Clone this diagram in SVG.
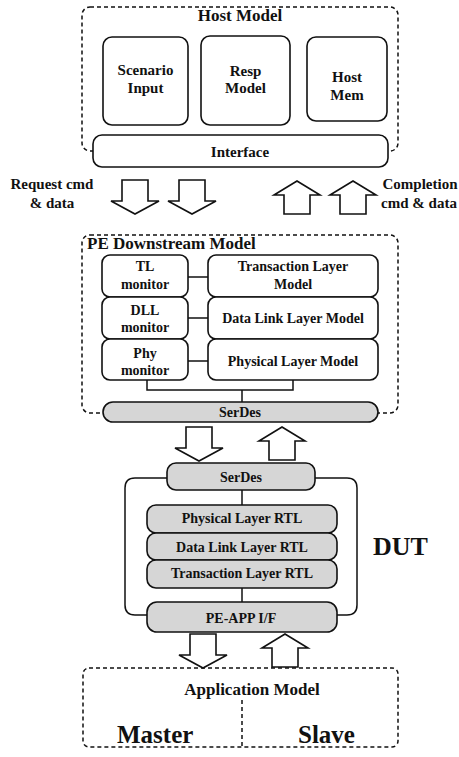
<svg xmlns="http://www.w3.org/2000/svg" width="459" height="757" viewBox="0 0 459 757">
  <style>
    text { font-family: "Liberation Serif", "Times New Roman", serif; font-weight: bold; fill: #111; }
    .c { text-anchor: middle; }
    .box { fill: #fff; stroke: #111; stroke-width: 1.6; }
    .grey { fill: #d6d6d6; stroke: #111; stroke-width: 1.6; }
    .dash { fill: none; stroke: #111; stroke-width: 1.5; stroke-dasharray: 4 3; }
    .line { fill: none; stroke: #111; stroke-width: 1.5; }
    .arrow { fill: #fff; stroke: #111; stroke-width: 1.6; stroke-linejoin: miter; }
    .t14 { font-size: 14px; }
    .t15 { font-size: 15px; }
    .t17 { font-size: 17px; }
  </style>
  <defs>
    <!-- block arrows, drawn around origin; tip at y=0 for up, tip at bottom for down -->
    <path id="down" d="M-13,0 H13 V21 H24 L0,34 L-24,21 H-13 Z"/>
    <path id="up" d="M-13,33 H13 V14 H23 L0,0 L-23,14 H-13 Z"/>
  </defs>
  <rect width="459" height="757" fill="#fff"/>

  <!-- Host Model -->
  <g id="host-model">
    <rect class="dash" x="82" y="7" width="316" height="144" rx="8"/>
    <text class="t17 c" x="240" y="21">Host Model</text>
  </g>
  <g id="scenario-input">
    <rect class="box" x="103" y="37" width="85" height="88" rx="9"/>
    <text class="t15 c" x="145.5" y="75">Scenario</text>
    <text class="t15 c" x="145.5" y="93">Input</text>
  </g>
  <g id="resp-model">
    <rect class="box" x="201" y="36" width="89" height="89" rx="9"/>
    <text class="t15 c" x="245.5" y="76">Resp</text>
    <text class="t15 c" x="245.5" y="93">Model</text>
  </g>
  <g id="host-mem">
    <rect class="box" x="307" y="37" width="80" height="84" rx="9"/>
    <text class="t15 c" x="347" y="82">Host</text>
    <text class="t15 c" x="347" y="100">Mem</text>
  </g>
  <g id="interface">
    <rect class="box" x="93" y="135" width="295" height="32" rx="9"/>
    <text class="t15 c" x="240" y="157">Interface</text>
  </g>

  <!-- host-side labels -->
  <g id="request-label">
    <text class="t15 c" x="52" y="189">Request cmd</text>
    <text class="t15 c" x="52" y="208">&amp; data</text>
  </g>
  <g id="completion-label">
    <text class="t15 c" x="420" y="189">Completion</text>
    <text class="t15 c" x="419" y="208">cmd &amp; data</text>
  </g>

  <!-- PE Downstream Model -->
  <g id="pe-downstream-model">
    <rect class="dash" x="82" y="235" width="316" height="178" rx="8"/>
    <text class="t17" x="87" y="249">PE Downstream Model</text>
  </g>
  <g id="tl-monitor">
    <rect class="box" x="102" y="255" width="86" height="42" rx="8"/>
    <text class="t14 c" x="145" y="271">TL</text>
    <text class="t14 c" x="145" y="289">monitor</text>
  </g>
  <g id="dll-monitor">
    <rect class="box" x="102" y="297" width="86" height="42" rx="8"/>
    <text class="t14 c" x="145" y="315">DLL</text>
    <text class="t14 c" x="145" y="332">monitor</text>
  </g>
  <g id="phy-monitor">
    <rect class="box" x="102" y="339" width="86" height="41" rx="8"/>
    <text class="t14 c" x="145" y="358">Phy</text>
    <text class="t14 c" x="145" y="375">monitor</text>
  </g>
  <g id="transaction-layer-model">
    <rect class="box" x="208" y="255" width="170" height="42" rx="8"/>
    <text class="t14 c" x="293" y="271">Transaction Layer</text>
    <text class="t14 c" x="293" y="289">Model</text>
  </g>
  <g id="data-link-layer-model">
    <rect class="box" x="208" y="297" width="170" height="42" rx="8"/>
    <text class="t14 c" x="293" y="323">Data Link Layer Model</text>
  </g>
  <g id="physical-layer-model">
    <rect class="box" x="208" y="339" width="170" height="41" rx="8"/>
    <text class="t14 c" x="293" y="366">Physical Layer Model</text>
  </g>
  <g id="serdes-model">
    <rect class="grey" x="103" y="402" width="275" height="20" rx="10"/>
    <text class="t14 c" x="240" y="417">SerDes</text>
  </g>

  <!-- DUT -->
  <g id="dut">
    <path class="line" d="M167,478 H135 Q125,478 125,488 V605 Q125,615 135,615 H147"/>
    <path class="line" d="M315,478 H347 Q357,478 357,488 V605 Q357,615 347,615 H337"/>
    <text x="373" y="555" style="font-size:26px">DUT</text>
  </g>
  <g id="serdes-dut">
    <rect class="grey" x="167" y="463" width="148" height="27" rx="9"/>
    <text class="t14 c" x="241" y="482">SerDes</text>
  </g>
  <g id="physical-layer-rtl">
    <rect class="grey" x="147" y="505" width="190" height="28" rx="9"/>
    <text class="t14 c" x="242" y="523">Physical Layer RTL</text>
  </g>
  <g id="data-link-layer-rtl">
    <rect class="grey" x="147" y="533" width="190" height="27" rx="9"/>
    <text class="t14 c" x="242" y="552">Data Link Layer RTL</text>
  </g>
  <g id="transaction-layer-rtl">
    <rect class="grey" x="147" y="560" width="190" height="28" rx="9"/>
    <text class="t14 c" x="242" y="578">Transaction Layer RTL</text>
  </g>
  <g id="pe-app-if">
    <rect class="grey" x="147" y="602" width="190" height="30" rx="10"/>
    <text class="t14 c" x="241" y="623">PE-APP I/F</text>
  </g>

  <!-- Application Model -->
  <g id="application-model">
    <rect class="dash" x="83" y="668" width="315" height="79" rx="6"/>
    <text class="t17 c" x="252" y="695">Application Model</text>
    <line class="dash" x1="242" y1="700" x2="242" y2="747"/>
    <text x="117" y="743" style="font-size:25px">Master</text>
    <text x="298" y="743" style="font-size:25px">Slave</text>
  </g>

  <!-- connectors -->
  <g id="connectors">
    <line class="line" x1="188" y1="277" x2="208" y2="277"/>
    <line class="line" x1="188" y1="318" x2="208" y2="318"/>
    <line class="line" x1="188" y1="361" x2="208" y2="361"/>
    <path class="line" d="M147,380 V390 H293 V380"/>
    <line class="line" x1="242" y1="390" x2="242" y2="402"/>
    <line class="line" x1="242" y1="490" x2="242" y2="505"/>
    <line class="line" x1="242" y1="588" x2="242" y2="602"/>

    <use href="#down" class="arrow" x="135" y="180"/>
    <use href="#down" class="arrow" x="192" y="180"/>
    <use href="#up" class="arrow" x="297" y="181"/>
    <use href="#up" class="arrow" x="353" y="181"/>

    <use href="#down" class="arrow" x="199" y="427"/>
    <use href="#up" class="arrow" x="282" y="427"/>

    <use href="#down" class="arrow" x="203" y="634"/>
    <use href="#up" class="arrow" x="285" y="634"/>
  </g>
</svg>
